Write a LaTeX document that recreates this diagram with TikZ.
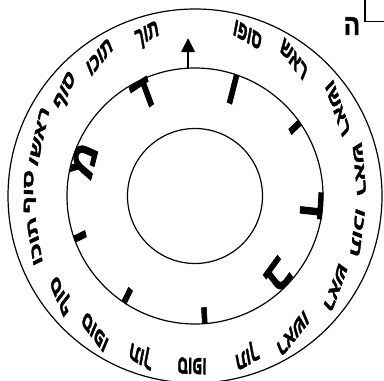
\documentclass[tikz,border=0pt]{standalone}
\usepackage{fontspec}
\newfontfamily\hebfont[Script=Hebrew,BoldFeatures={FakeBold=2}]{Liberation Sans}
\TeXXeTstate=1
\usetikzlibrary{arrows.meta,calc}
\begin{document}
\begin{tikzpicture}[x=1pt,y=1pt]
\tikzset{
  ring/.style={draw,line width=1.2pt},
  word/.style={font=\hebfont\bfseries\fontsize{15}{18}\selectfont, inner sep=0pt, anchor=base, yscale=1.75},
  glyph/.style={font=\hebfont\bfseries\fontsize{36}{40}\selectfont, inner sep=0pt, anchor=north, yscale=1.35},
}
\useasboundingbox (0,0) rectangle (384,381);
\coordinate (C) at (195,185);
\draw[ring] (C) circle[radius=187];
\draw[ring] (C) circle[radius=128];
\draw[ring] (C) circle[radius=67.5];
% arrow
\coordinate (abase) at ($(C)+(93.1:128)$);
\coordinate (atip) at ($(abase)+(0,30)$);
\draw[line width=1.2pt,-{Triangle[length=14pt,width=14pt]}] (abase) -- (atip);
% ring words
\foreach \i/\a/\t in {1/53.6/ראש, 2/71.6/סופו, 3/106.8/תוך, 4/125/תוכו, 5/141.7/סוף, 6/159.5/ראשו,
  7/178.6/סוף, 8/195.5/תוכו, 9/216.1/סוף, 10/233.1/סופו, 11/251/תוך, 12/269/סופו,
  13/288.3/תוך, 14/306/ראשו, 15/327.5/ראש, 16/347.5/תוכו, 17/9/ראש, 18/31/ראשו}{
  \node[word, rotate=\a-90] (w\i) at ($(C)+(\a:162)$) {\beginR\t\endR};
}
% inner letters
\foreach \i/\a/\t in {1/116.6/ד, 2/71/ו, 3/35/י, 4/-4.6/ד, 5/-44.6/ב, 6/274.4/י, 7/236.3/י, 8/199.7/י, 9/161.6/מ}{
  \node[glyph, rotate=\a-90] (g\i) at ($(C)+(\a:128)$) {\beginR\t\endR};
}
% corner mark
\node[font=\hebfont\bfseries\fontsize{24}{28}\selectfont, inner sep=0pt, yscale=1.2] (he) at (352,355) {\beginR ה\endR};
\coordinate (c1) at (365,381);
\coordinate (c2) at (365,359.3);
\coordinate (c3) at (384,359.3);
\draw[line width=1.2pt] (c1) -- (c2) -- (c3);
\end{tikzpicture}
\end{document}
